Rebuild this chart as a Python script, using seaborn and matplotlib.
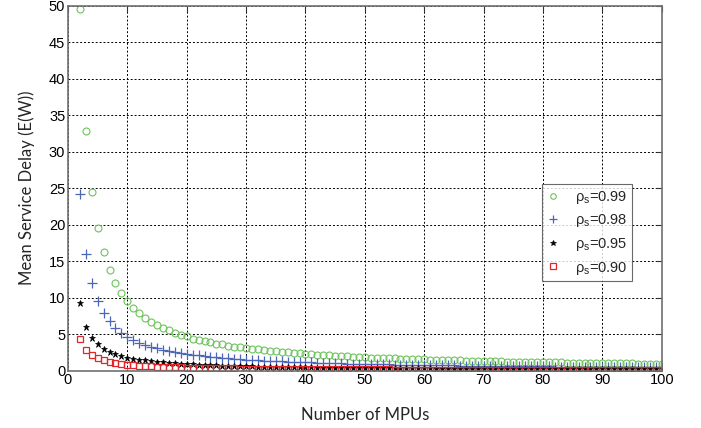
import seaborn as sns
import matplotlib.pyplot as plt

sns.set_style('white')
plt.rcParams['font.family'] = ['Liberation Sans', 'DejaVu Sans']

# number of MPUs
mpus = list(range(2, 101))

rho_99 = [49.5, 32.8, 24.5, 19.6, 16.2, 13.8, 12.0, 10.6, 9.5,
          8.6, 7.9, 7.2, 6.7, 6.2, 5.8, 5.5, 5.2, 4.9, 4.7,
          4.4, 4.2, 4.0, 3.9, 3.7, 3.6, 3.4, 3.3, 3.2, 3.1,
          3.0, 2.9, 2.8, 2.7, 2.65, 2.6, 2.5, 2.45, 2.4, 2.3,
          2.25, 2.2, 2.15, 2.1, 2.05, 2.0, 1.96, 1.92, 1.88, 1.84,
          1.8, 1.77, 1.74, 1.71, 1.68, 1.65, 1.62, 1.59, 1.56, 1.54,
          1.51, 1.49, 1.47, 1.44, 1.42, 1.40, 1.38, 1.36, 1.34, 1.32,
          1.30, 1.28, 1.27, 1.25, 1.23, 1.22, 1.20, 1.19, 1.17, 1.16,
          1.14, 1.13, 1.12, 1.10, 1.09, 1.08, 1.07, 1.05, 1.04, 1.03,
          1.02, 1.01, 1.00, 0.99, 0.98, 0.97, 0.96, 0.95, 0.94, 0.93]

rho_98 = [24.2, 16.0, 12.0, 9.5, 7.9, 6.8, 5.8, 5.1, 4.6,
          4.2, 3.8, 3.5, 3.25, 3.05, 2.85, 2.7, 2.55, 2.4, 2.3,
          2.2, 2.1, 2.0, 1.9, 1.82, 1.75, 1.69, 1.63, 1.57, 1.52,
          1.47, 1.43, 1.38, 1.34, 1.31, 1.27, 1.24, 1.2, 1.17, 1.14,
          1.12, 1.09, 1.06, 1.04, 1.02, 0.99, 0.97, 0.95, 0.93, 0.91,
          0.9, 0.88, 0.86, 0.85, 0.83, 0.82, 0.8, 0.79, 0.78, 0.76,
          0.75, 0.74, 0.73, 0.72, 0.71, 0.7, 0.69, 0.68, 0.67, 0.66,
          0.65, 0.64, 0.63, 0.62, 0.61, 0.6, 0.6, 0.59, 0.58, 0.57,
          0.57, 0.56, 0.55, 0.55, 0.54, 0.53, 0.53, 0.52, 0.51, 0.51,
          0.5, 0.5, 0.49, 0.49, 0.48, 0.48, 0.47, 0.47, 0.46, 0.46]

rho_95 = [9.3, 6.0, 4.5, 3.6, 3.0, 2.6, 2.3, 2.0, 1.8,
          1.65, 1.5, 1.4, 1.3, 1.2, 1.12, 1.05, 1.0, 0.94, 0.9,
          0.85, 0.81, 0.78, 0.75, 0.72, 0.69, 0.66, 0.64, 0.62, 0.6,
          0.58, 0.56, 0.54, 0.53, 0.51, 0.5, 0.48, 0.47, 0.46, 0.45,
          0.44, 0.43, 0.42, 0.41, 0.4, 0.39, 0.38, 0.37, 0.37, 0.36,
          0.35, 0.35, 0.34, 0.33, 0.33, 0.32, 0.32, 0.31, 0.31, 0.3,
          0.3, 0.29, 0.29, 0.28, 0.28, 0.27, 0.27, 0.27, 0.26, 0.26,
          0.25, 0.25, 0.25, 0.24, 0.24, 0.24, 0.23, 0.23, 0.23, 0.23,
          0.22, 0.22, 0.22, 0.21, 0.21, 0.21, 0.21, 0.2, 0.2, 0.2,
          0.2, 0.2, 0.19, 0.19, 0.19, 0.19, 0.19, 0.18, 0.18, 0.18]

rho_90 = [4.3, 2.8, 2.1, 1.7, 1.4, 1.2, 1.05, 0.93, 0.84,
          0.76, 0.7, 0.65, 0.6, 0.56, 0.53, 0.5, 0.47, 0.44, 0.42,
          0.4, 0.38, 0.37, 0.35, 0.34, 0.33, 0.31, 0.3, 0.29, 0.28,
          0.27, 0.26, 0.26, 0.25, 0.24, 0.23, 0.23, 0.22, 0.22, 0.21,
          0.21, 0.2, 0.2, 0.19, 0.19, 0.18, 0.18, 0.18, 0.17, 0.17,
          0.17, 0.16, 0.16, 0.16, 0.15, 0.15, 0.15, 0.15, 0.14, 0.14,
          0.14, 0.14, 0.13, 0.13, 0.13, 0.13, 0.13, 0.12, 0.12, 0.12,
          0.12, 0.12, 0.12, 0.11, 0.11, 0.11, 0.11, 0.11, 0.11, 0.11,
          0.1, 0.1, 0.1, 0.1, 0.1, 0.1, 0.1, 0.1, 0.1, 0.1,
          0.1, 0.09, 0.09, 0.09, 0.09, 0.09, 0.09, 0.09, 0.09, 0.09]

labels = ['0.99', '0.98', '0.95', '0.90']

fig = plt.figure(figsize=(7.01, 4.28), dpi=100)
ax = fig.add_axes([0.097, 0.134, 0.847, 0.853])

styles = [
    (rho_99, dict(marker='o', markersize=5, mfc='none', mec='#6cc35a', mew=0.8, color='#6cc35a')),
    (rho_98, dict(marker='+', markersize=7, mec='#4a66b8', mew=0.9, color='#4a66b8')),
    (rho_95, dict(marker='*', markersize=5, mfc='black', mec='black', mew=0.5, color='black')),
    (rho_90, dict(marker='s', markersize=5, mfc='none', mec='#e0262a', mew=0.9, color='#e0262a')),
]

for (vals, kw), lab in zip(styles, labels):
    sns.lineplot(x=mpus, y=vals, ax=ax, linestyle='none',
                 label='ρ$_\\mathregular{s}$=' + lab, **kw)

ax.set_xlim(0, 100)
ax.set_ylim(0, 50)
ax.set_xticks(range(0, 101, 10))
ax.set_yticks(range(0, 51, 5))
ax.tick_params(direction='in', length=4, labelsize=10.5, top=True, right=True,
               colors='#333333', labelcolor='black', pad=2)
ax.grid(True, linestyle=(0, (2, 2)), color='black', linewidth=0.7)
for sp in ax.spines.values():
    sp.set_color('#707070')
    sp.set_linewidth(1.2)

ax.set_xlabel('Number of MPUs', family=['Lato', 'DejaVu Sans'], fontsize=12, labelpad=14)
ax.set_ylabel('Mean Service Delay (E(W))', family=['Lato', 'DejaVu Sans'], fontsize=12, labelpad=10)

leg = ax.legend(loc='upper left', bbox_to_anchor=(0.798, 0.51), borderaxespad=0,
                frameon=True, fancybox=False, fontsize=10.5, handlelength=1.0,
                handletextpad=1.0, borderpad=0.3, labelspacing=0.45, markerscale=0.8)
leg.get_frame().set_edgecolor('#444444')
leg.get_frame().set_linewidth(0.8)

fig.savefig('out.png', dpi=100)
